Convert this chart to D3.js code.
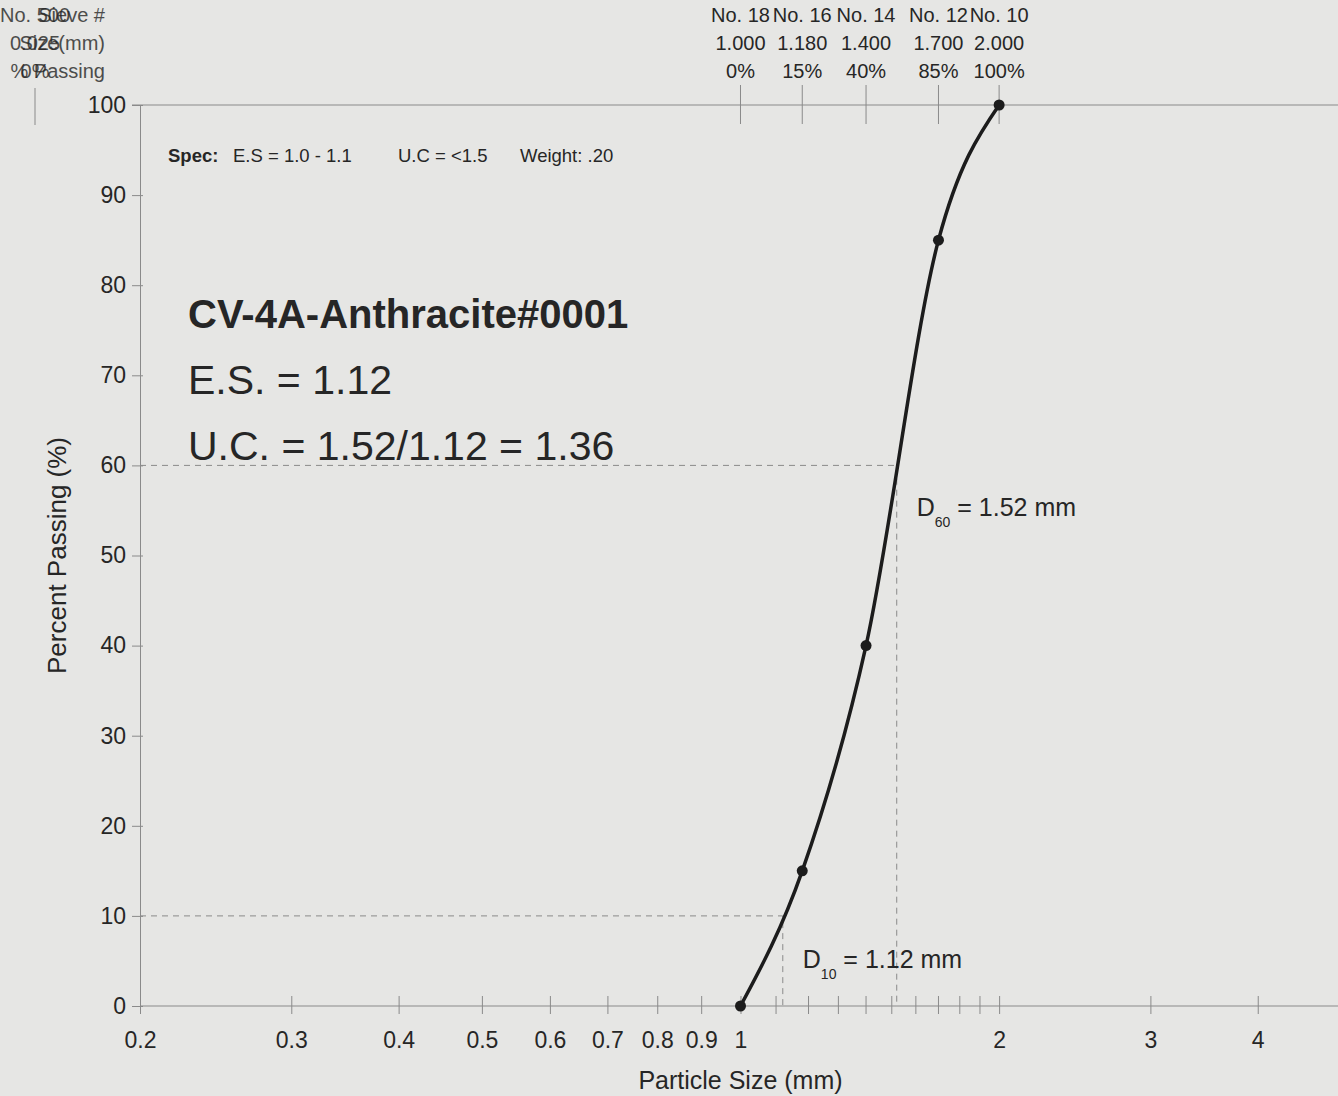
<!DOCTYPE html>
<html>
<head>
<meta charset="utf-8">
<title>Sieve Analysis</title>
<script type="text/javascript" src="https://cdn.jsdelivr.net/npm/d3@7/dist/d3.min.js"></script>
<style>
body { margin: 0; background: #e6e6e4; }
svg { display: block; font-family: Arial, "Liberation Sans", sans-serif; }
.axis path, .axis line { stroke: #8a8a8a; }
.axis text { fill: #262626; font-size: 23px; }
</style>
</head>
<body>
<div id="chart"></div>
<script type="text/javascript">
// sieve data
var sieveNames = ["No. 18", "No. 16", "No. 14", "No. 12", "No. 10"];
var sieveSizes = [1.0, 1.18, 1.4, 1.7, 2.0];
var sievePassing = [0, 15, 40, 85, 100];
var sieveSizeLabels = ["1.000", "1.180", "1.400", "1.700", "2.000"];

// off-scale sieve shown beside header
var firstSieve = ["No. 500", "0.025", "0%"];
var headerRows = ["Sieve #", "Size(mm)", "% Passing"];

var xTickLabels = [0.2, 0.3, 0.4, 0.5, 0.6, 0.7, 0.8, 0.9, 1, 2, 3, 4];
var xMinorTicks = [1.1, 1.2, 1.3, 1.4, 1.5, 1.6, 1.7, 1.8, 1.9];
var yTicks = [0, 10, 20, 30, 40, 50, 60, 70, 80, 90, 100];

var d10 = 1.12, d60 = 1.52;

var svgWidth = 1338, svgHeight = 1096;
var margin = {top: 105, right: 0, bottom: 90, left: 140};
var width = svgWidth - margin.left - margin.right,
    height = svgHeight - margin.top - margin.bottom;

var x = d3.scaleLog().domain([0.2, 4.96]).range([0, width]);
var y = d3.scaleLinear().domain([0, 100]).range([height, 0]);

var svg = d3.select("#chart").append("svg")
    .attr("width", svgWidth)
    .attr("height", svgHeight);

var g = svg.append("g")
    .attr("transform", "translate(" + margin.left + "," + margin.top + ")");

// top border
g.append("line")
    .attr("x1", -8).attr("x2", width)
    .attr("y1", 0).attr("y2", 0)
    .attr("stroke", "#8a8a8a");

// bottom axis, ticks crossing the line
var xAxis = g.append("g")
    .attr("class", "axis")
    .attr("transform", "translate(0," + height + ")")
    .call(d3.axisBottom(x).tickValues(xTickLabels).tickFormat(d3.format("")).tickSize(8).tickSizeOuter(0));
xAxis.selectAll(".tick line").attr("y1", -10).attr("y2", 8);
xAxis.selectAll(".tick text").attr("dy", "1.35em");
xAxis.select(".domain").attr("d", "M0,0H" + width);

g.append("g")
    .attr("class", "axis")
    .attr("transform", "translate(0," + height + ")")
    .selectAll("line")
    .data(xMinorTicks)
    .enter().append("line")
    .attr("x1", function(d) { return x(d); })
    .attr("x2", function(d) { return x(d); })
    .attr("y1", -10).attr("y2", 8)
    .attr("stroke", "#8a8a8a");

// left axis
var yAxis = g.append("g")
    .attr("class", "axis")
    .call(d3.axisLeft(y).tickValues(yTicks).tickSize(8).tickSizeOuter(0).tickPadding(6));
yAxis.selectAll(".tick line").attr("x2", -8).attr("x1", 3);

// top sieve ticks and labels
var topG = g.append("g");
topG.selectAll("line")
    .data(sieveSizes)
    .enter().append("line")
    .attr("x1", function(d) { return x(d); })
    .attr("x2", function(d) { return x(d); })
    .attr("y1", -20).attr("y2", 19)
    .attr("stroke", "#8a8a8a");

var rowY = [-83, -55, -27];
sieveSizes.forEach(function(s, i) {
    var rows = [sieveNames[i], sieveSizeLabels[i], sievePassing[i] + "%"];
    rows.forEach(function(t, j) {
        topG.append("text")
            .attr("x", x(s))
            .attr("y", rowY[j])
            .attr("text-anchor", "middle")
            .attr("font-size", "20px")
            .attr("fill", "#262626")
            .text(t);
    });
});

// header block at top-left (overlaps like the original print)
var hx = -105;
topG.append("line")
    .attr("x1", hx).attr("x2", hx)
    .attr("y1", -17).attr("y2", 20)
    .attr("stroke", "#8a8a8a");
firstSieve.forEach(function(t, j) {
    topG.append("text")
        .attr("x", hx).attr("y", rowY[j])
        .attr("text-anchor", "middle")
        .attr("font-size", "20px")
        .attr("fill", "#262626")
        .attr("opacity", 0.8)
        .text(t);
});
headerRows.forEach(function(t, j) {
    topG.append("text")
        .attr("x", -35).attr("y", rowY[j])
        .attr("text-anchor", "end")
        .attr("font-size", "20px")
        .attr("fill", "#262626")
        .attr("opacity", 0.8)
        .text(t);
});

// D10 / D60 guides
var guides = [{d: d10, p: 10}, {d: d60, p: 60}];
guides.forEach(function(gd) {
    g.append("path")
        .attr("d", "M0," + y(gd.p) + "H" + x(gd.d) + "V" + y(0))
        .attr("fill", "none")
        .attr("stroke", "#8a8a8a")
        .attr("stroke-width", 1)
        .attr("stroke-dasharray", "6,5");
});

// gradation curve
var pts = sieveSizes.map(function(s, i) { return [x(s), y(sievePassing[i])]; });
g.append("path")
    .attr("d", d3.line().curve(d3.curveMonotoneX)(pts))
    .attr("fill", "none")
    .attr("stroke", "#1c1c1c")
    .attr("stroke-width", 3.5);

g.selectAll(".pt")
    .data(pts)
    .enter().append("circle")
    .attr("class", "pt")
    .attr("cx", function(d) { return d[0]; })
    .attr("cy", function(d) { return d[1]; })
    .attr("r", 5.5)
    .attr("fill", "#1c1c1c");

// annotations
function dLabel(sub, val, px, py) {
    var t = g.append("text")
        .attr("x", px).attr("y", py)
        .attr("font-size", "25px")
        .attr("fill", "#262626");
    t.append("tspan").text("D");
    t.append("tspan").attr("font-size", "14px").attr("dy", 11).text(sub);
    t.append("tspan").attr("dy", -11).text(" = " + val + " mm");
}
dLabel("10", d10.toFixed(2), x(d10) + 20, y(4.2));
dLabel("60", d60.toFixed(2), x(d60) + 20, y(54.4));

var spec = g.append("text")
    .attr("y", 57)
    .attr("font-size", "18.5px")
    .attr("fill", "#262626");
spec.append("tspan").attr("x", 28).attr("font-weight", "bold").text("Spec:");
spec.append("tspan").attr("x", 93).text("E.S = 1.0 - 1.1");
spec.append("tspan").attr("x", 258).text("U.C = <1.5");
spec.append("tspan").attr("x", 380).text("Weight: .20");

g.append("text")
    .attr("x", 48).attr("y", 223)
    .attr("font-size", "40px")
    .attr("font-weight", "bold")
    .attr("fill", "#262626")
    .text("CV-4A-Anthracite#0001");
g.append("text")
    .attr("x", 48).attr("y", 289)
    .attr("font-size", "41px")
    .attr("fill", "#262626")
    .text("E.S. = 1.12");
g.append("text")
    .attr("x", 48).attr("y", 355)
    .attr("font-size", "41px")
    .attr("fill", "#262626")
    .text("U.C. = 1.52/1.12 = 1.36");

// axis titles
g.append("text")
    .attr("transform", "rotate(-90)")
    .attr("x", -height / 2 + 0)
    .attr("y", -74)
    .attr("text-anchor", "middle")
    .attr("font-size", "26px")
    .attr("fill", "#262626")
    .text("Percent Passing (%)");
g.append("text")
    .attr("x", x(1))
    .attr("y", height + 83)
    .attr("text-anchor", "middle")
    .attr("font-size", "25px")
    .attr("fill", "#262626")
    .text("Particle Size (mm)");
</script>
</body>
</html>
